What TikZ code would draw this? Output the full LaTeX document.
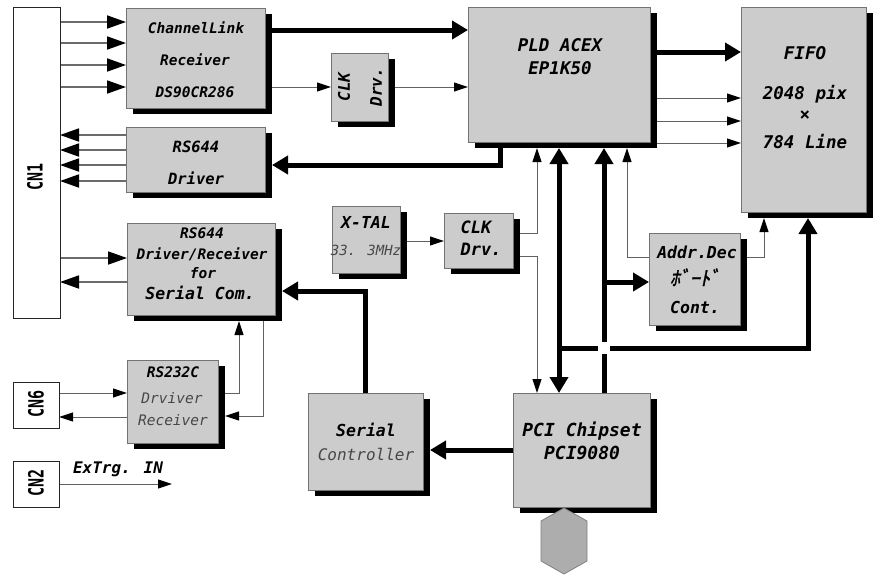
\documentclass[tikz,border=0pt]{standalone}
\usepackage{fontspec}
\usetikzlibrary{arrows.meta,calc}
\newfontfamily\lblf[BoldItalicFont={DejaVu Sans Mono Bold Oblique},ItalicFont={DejaVu Sans Mono Oblique},BoldFont={DejaVu Sans Mono Bold}]{DejaVu Sans Mono}
\newfontfamily\cjkf[FakeSlant=0.2,FakeBold=1.5]{Noto Sans CJK JP}
\pgfdeclarelayer{bg}
\pgfsetlayers{bg,main}
\tikzset{
  blk/.style={draw=black!55, line width=0.6pt, fill=black!20, inner sep=0pt, outer sep=0pt},
  cnb/.style={draw=black!85, line width=1pt, fill=white, inner sep=0pt, outer sep=0pt},
  tb/.style={inner sep=0pt, anchor=base, text=black, font=\lblf\bfseries\itshape\fontsize{#1}{#1}\selectfont},
  tg/.style={inner sep=0pt, anchor=base, text=black!72, font=\lblf\itshape\fontsize{#1}{#1}\selectfont},
  cnl/.style={inner sep=0pt, rotate=90, text=black, font=\lblf\bfseries\fontsize{15}{15}\selectfont},
  thk/.style={line width=5pt, draw=black, -{Triangle[length=16pt,width=18pt]}},
  thkb/.style={line width=5pt, draw=black, {Triangle[length=16pt,width=18pt]}-{Triangle[length=16pt,width=18pt]}},
  thn/.style={line width=1pt, draw=black!62, -{Triangle[length=14pt,width=9pt,color=black]}},
  bus/.style={line width=1.8pt, draw=black!58, -{Triangle[length=19pt,width=13pt,color=black]}},
}
\begin{document}
\begin{tikzpicture}[x=1pt,y=-1pt]
\useasboundingbox (0,0) rectangle (874,576);

% ---------- shadows of the blocks ----------
\foreach \cx/\cy/\w/\h in {195.5/58/139/100, 195.5/159.5/139/65, 359.5/87/57/68,
   559/74.5/182/135, 803.5/109.5/125/205, 366/239.5/68/67, 478.5/240.5/69/55,
   694.5/279/91/92, 201/269/148/92, 172.5/401.5/91/83, 365.5/441.5/115/97,
   581.5/450/137/114}
  \fill[black] (\cx-\w/2+7,\cy-\h/2+6) rectangle (\cx+\w/2+7,\cy+\h/2+6);

% ---------- plain connector boxes ----------
\node[cnb, minimum width=47pt, minimum height=311pt] (CN1) at (36.5,162.5) {};
\node[cnb, minimum width=46pt, minimum height=46pt] (CN6) at (36,405) {};
\node[cnb, minimum width=46pt, minimum height=46pt] (CN2) at (36,484) {};

% ---------- blocks ----------
\node[blk, minimum width=139pt, minimum height=100pt] (CL) at (195.5,58) {};
\node[blk, minimum width=139pt, minimum height=65pt] (RSD) at (195.5,159.5) {};
\node[blk, minimum width=57pt, minimum height=68pt] (CLK1) at (359.5,87) {};
\node[blk, minimum width=182pt, minimum height=135pt] (PLD) at (559,74.5) {};
\node[blk, minimum width=125pt, minimum height=205pt] (FIFO) at (803.5,109.5) {};
\node[blk, minimum width=68pt, minimum height=67pt] (XTAL) at (366,239.5) {};
\node[blk, minimum width=69pt, minimum height=55pt] (CLK2) at (478.5,240.5) {};
\node[blk, minimum width=91pt, minimum height=92pt] (ADDR) at (694.5,279) {};
\node[blk, minimum width=148pt, minimum height=92pt] (RSDR) at (201,269) {};
\node[blk, minimum width=91pt, minimum height=83pt] (RS232) at (172.5,401.5) {};
\node[blk, minimum width=115pt, minimum height=97pt] (SER) at (365.5,441.5) {};
\node[blk, minimum width=137pt, minimum height=114pt] (PCI) at (581.5,450) {};

% hexagon connector under PCI
\draw[draw=black!50, fill=black!32, line width=0.8pt]
  (564,508) -- (587,521) -- (587,561) -- (564,574) -- (541,561) -- (541,521) -- cycle;

% ---------- labels ----------
\node[cnl] (tcn1) at (35,177) {\scalebox{1}[1.4]{CN1}};
\node[cnl] (tcn6) at (36,404) {\scalebox{1}[1.4]{CN6}};
\node[cnl] (tcn2) at (36,483) {\scalebox{1}[1.4]{CN2}};

\node[tb=14.5] (t1) at (196,33.3) {ChannelLink};
\node[tb=14.5] (t2) at (195,65.3) {Receiver};
\node[tb=14.5] (t3) at (195,97.3) {DS90CR286};

\node[tb=15.5] (t4) at (196,152) {RS644};
\node[tb=15.5] (t5) at (196,184.7) {Driver};

\node[inner sep=0pt, rotate=90, align=center, text=black,
      font=\lblf\bfseries\itshape\fontsize{16}{32}\selectfont] (t6) at (360,87) {CLK\\Drv.};

\node[tb=17.5] (t7) at (560,51.4) {PLD ACEX};
\node[tb=17.5] (t8) at (560,74.4) {EP1K50};

\node[tb=17.5] (t9) at (805,59.4) {FIFO};
\node[tb=17.5] (t10) at (805,99.4) {2048 pix};
\node[tb=17.5] (t11) at (805,120.7) {×};
\node[tb=17.5] (t12) at (805,148.4) {784 Line};

\node[tb=16.5] (t13) at (366,228) {X-TAL};
\node[tg=14] (t14) at (366,255.1) {33. 3MHz};

\node[tb=17] (t15) at (476,233.2) {CLK};
\node[tb=17] (t16) at (481,255.2) {Drv.};

\node[tb=16.5] (t17) at (697,258) {Addr.Dec};
\node[inner sep=0pt, anchor=base, text=black, font=\cjkf\fontsize{20}{20}\selectfont] (t18) at (695,285.5) {ﾎﾞｰﾄﾞ};
\node[tb=16.5] (t19) at (695,313) {Cont.};

\node[tb=14.5] (t20) at (202,238.3) {RS644};
\node[tb=14.5] (t21) at (202,259.3) {Driver/Receiver};
\node[tb=14.5] (t22) at (203,278.3) {for};
\node[tb=16.5] (t23) at (200,299) {Serial Com.};

\node[tb=14.5] (t24) at (173,377.3) {RS232C};
\node[tg=14.5] (t25) at (172,403.3) {Drviver};
\node[tg=14.5] (t26) at (173,425.3) {Receiver};

\node[tb=16.5] (t27) at (366,436) {Serial};
\node[tg=16] (t28) at (366,460.8) {Controller};

\node[tb=18] (t29) at (582,436.6) {PCI Chipset};
\node[tb=18] (t30) at (582,459.6) {PCI9080};

\node[tb=16] (t31) at (118,473.8) {ExTrg. IN};

% ---------- connectors (behind the blocks) ----------
\begin{pgfonlayer}{bg}
% CN1 <-> ChannelLink / RS644
\foreach \yy in {22,43,65,87} \draw[bus] (CN1.east |- 0,\yy) -- (CL.west |- 0,\yy);
\foreach \yy in {135,150,165,181} \draw[bus] (RSD.west |- 0,\yy) -- (CN1.east |- 0,\yy);
\draw[bus] (CN1.east |- 0,258) -- (RSDR.west |- 0,258);
\draw[bus] (RSDR.west |- 0,282) -- (CN1.east |- 0,282);

% ChannelLink -> PLD, CLK
\draw[thk] (CL.east |- 0,30) -- (PLD.west |- 0,30);
\draw[thn] (CL.east |- 0,87) -- (CLK1.west |- 0,87);
\draw[thn] (CLK1.east |- 0,87) -- (PLD.west |- 0,87);

% PLD -> RS644 driver
\draw[thk] ($(PLD.south west)+(32,0)$) |- ($(RSD.east |- 0,165)+(7,0)$);

% PLD -> FIFO
\draw[thk] (PLD.east |- 0,52) -- (FIFO.west |- 0,52);
\foreach \yy in {98,121,143} \draw[thn] (PLD.east |- 0,\yy) -- (FIFO.west |- 0,\yy);

% clock
\draw[thn] (XTAL.east |- 0,241) -- (CLK2.west |- 0,241);
\draw[thn] (CLK2.east |- 0,233) -| ($(PLD.south west)+(69,6)$);
\draw[thn] (CLK2.east |- 0,256) -| ($(PCI.north west)+(24,0)$);

% buses PLD <-> PCI
\draw[thkb] ($(PLD.south)+(0,6)$) -- ($(PCI.north west)+(46,0)$);
\draw[thk] ($(PCI.north west)+(46,-45)$) -| ($(FIFO.south west)+(67,6)$);
\draw[thk] ($(PCI.north west)+(91,0)$) -- ($(PLD.south west)+(136,6)$);
\draw[thk] ($(PCI.north west)+(91,-111)$) -- (ADDR.west |- 0,282);
\fill[white] ($(PCI.north west)+(85,-51)$) rectangle +(12,12);

% Addr dec
\draw[thn] (ADDR.west |- 0,257) -| ($(PLD.south west)+(159,6)$);
\draw[thn] (ADDR.east |- 0,257) -| ($(FIFO.south west)+(23,6)$);

% PCI -> Serial -> RS644 D/R
\draw[thk] (PCI.west |- 0,450) -- ($(SER.east |- 0,450)+(7,0)$);
\draw[thk] (SER.north) |- ($(RSDR.east |- 0,291)+(7,0)$);

% RS232C
\draw[thn] (RS232.east |- 0,393) -| ($(RSDR.south west)+(112,6)$);
\draw[thn] ($(RSDR.south west)+(136,0)$) |- ($(RS232.east |- 0,416)+(7,0)$);
\draw[thn] (CN6.east |- 0,393) -- (RS232.west |- 0,393);
\draw[thn] (RS232.west |- 0,417) -- (CN6.east |- 0,417);

% CN2
\coordinate (trg) at (172,484);
\draw[thn] (CN2.east) -- (trg);
\end{pgfonlayer}
\end{tikzpicture}
\end{document}
